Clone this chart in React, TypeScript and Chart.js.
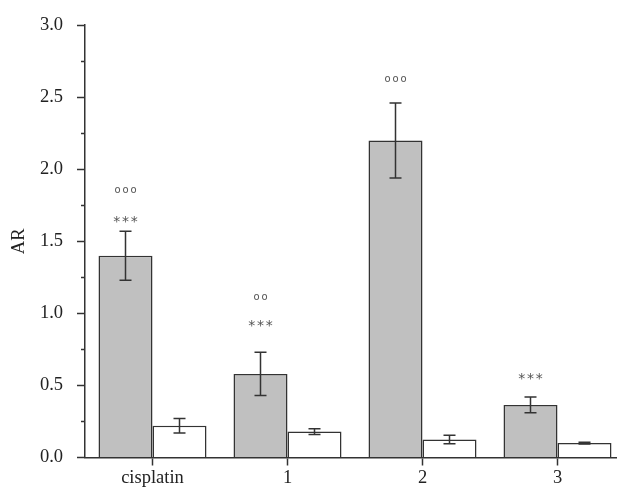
import React, { useEffect, useRef } from "react";
import { Chart, registerables } from "chart.js";
Chart.register(...registerables);

const categories = ["cisplatin", "1", "2", "3"];
const grayValues = [1.4, 0.58, 2.2, 0.365];
const grayErrors = [0.17, 0.15, 0.26, 0.055];
const whiteValues = [0.22, 0.18, 0.125, 0.1];
const whiteErrors = [0.05, 0.02, 0.03, 0.006];
const starLevels: (number | null)[] = [1.655, 0.93, null, 0.565];
const circleLevels: (number | null)[] = [1.85, 1.11, 2.625, null];
const circleCounts = [3, 2, 3, 0];
const starCounts = [3, 3, 0, 3];
const yMin = 0;
const yMax = 3;
const yStep = 0.25;
const yTitle = "AR";

const SERIF = "'Liberation Serif', 'Times New Roman', serif";
const INK = "#333333";

const overlayPlugin = {
  id: "overlay",
  afterDatasetsDraw(chart: any) {
    const ctx = chart.ctx;
    const y = chart.scales.y;
    const errs = [grayErrors, whiteErrors];
    const vals = [grayValues, whiteValues];
    ctx.save();
    ctx.strokeStyle = INK;
    ctx.lineWidth = 1.5;
    for (let d = 0; d < 2; d++) {
      const meta = chart.getDatasetMeta(d);
      meta.data.forEach((bar: any, i: number) => {
        const x = bar.x;
        const top = y.getPixelForValue(vals[d][i] + errs[d][i]);
        const bot = y.getPixelForValue(vals[d][i] - errs[d][i]);
        ctx.beginPath();
        ctx.moveTo(x, top);
        ctx.lineTo(x, bot);
        ctx.moveTo(x - 6, top);
        ctx.lineTo(x + 6, top);
        ctx.moveTo(x - 6, bot);
        ctx.lineTo(x + 6, bot);
        ctx.stroke();
      });
    }
    // significance marks above gray bars
    const meta0 = chart.getDatasetMeta(0);
    ctx.fillStyle = "#555555";
    ctx.textAlign = "center";
    ctx.textBaseline = "middle";
    meta0.data.forEach((bar: any, i: number) => {
      const x = bar.x;
      const sl = starLevels[i];
      if (sl !== null && starCounts[i] > 0) {
        const py = y.getPixelForValue(sl);
        ctx.font = "14px 'DejaVu Sans', sans-serif";
        const n = starCounts[i];
        for (let k = 0; k < n; k++) {
          ctx.fillText("*", x + (k - (n - 1) / 2) * 8.7, py + 3);
        }
      }
      const cl = circleLevels[i];
      if (cl !== null && circleCounts[i] > 0) {
        const py = y.getPixelForValue(cl);
        ctx.font = "10px 'DejaVu Sans', sans-serif";
        const n = circleCounts[i];
        for (let k = 0; k < n; k++) {
          ctx.fillText("o", x + (k - (n - 1) / 2) * 8, py);
        }
      }
    });
    ctx.restore();
  },
  afterDraw(chart: any) {
    const ctx = chart.ctx;
    const y = chart.scales.y;
    ctx.save();
    ctx.strokeStyle = INK;
    ctx.lineWidth = 1.5;
    ctx.beginPath();
    y.ticks.forEach((t: any) => {
      if (Math.abs(t.value / 0.5 - Math.round(t.value / 0.5)) > 1e-6) {
        const py = Math.round(y.getPixelForValue(t.value)) + 0.5;
        ctx.moveTo(y.right - 4, py);
        ctx.lineTo(y.right, py);
      }
    });
    ctx.stroke();
    ctx.restore();
  },
};

const isMajor = (v: number) => Math.abs(v / 0.5 - Math.round(v / 0.5)) < 1e-6;

export default function App() {
  const ref = useRef<HTMLCanvasElement | null>(null);
  useEffect(() => {
    if (!ref.current) return;
    const chart = new Chart(ref.current, {
      type: "bar",
      data: {
        labels: categories,
        datasets: [
          {
            data: grayValues,
            backgroundColor: "#c0c0c0",
            borderColor: INK,
            borderWidth: 1.5,
            categoryPercentage: 0.8,
            barPercentage: 1.0,
          },
          {
            data: whiteValues,
            backgroundColor: "#ffffff",
            borderColor: INK,
            borderWidth: 1.5,
            categoryPercentage: 0.8,
            barPercentage: 1.0,
          },
        ],
      },
      options: {
        animation: false,
        responsive: false,
        devicePixelRatio: 1,
        layout: { padding: { top: 22, right: 5, left: 0, bottom: 0 } },
        plugins: { legend: { display: false }, tooltip: { enabled: false } },
        scales: {
          x: {
            offset: true,
            grid: {
              display: true,
              offset: false,
              drawOnChartArea: false,
              drawTicks: true,
              tickLength: 8,
              tickColor: INK,
              tickWidth: 1.5,
            },
            border: { display: true, color: INK, width: 1.5 },
            ticks: {
              color: "#222",
              font: { family: SERIF, size: 18.5 },
              padding: 2,
              maxRotation: 0,
            },
            afterFit(scale: any) {
              scale.height = 31.5;
            },
          },
          y: {
            min: yMin,
            max: yMax,
            grid: {
              display: true,
              drawOnChartArea: false,
              drawTicks: true,
              tickLength: 8,
              tickWidth: 1.5,
              tickColor: (c: any) => (c.tick && isMajor(c.tick.value) ? INK : "rgba(0,0,0,0)"),
            },
            border: { display: true, color: INK, width: 1.5 },
            ticks: {
              stepSize: yStep,
              color: "#222",
              font: { family: SERIF, size: 18.5 },
              padding: 14,
              callback: (v: any) => (isMajor(Number(v)) ? Number(v).toFixed(1) : ""),
            },
            title: {
              display: true,
              text: yTitle,
              color: "#222",
              font: { family: SERIF, size: 18.5 },
              padding: { top: 8, bottom: 9 },
            },
            afterFit(scale: any) {
              scale.width = 85;
            },
          },
        },
      },
      plugins: [overlayPlugin],
    } as any);
    return () => chart.destroy();
  }, []);
  return (
    <div
      style={{
        position: "fixed",
        left: 0,
        top: 0,
        width: 617,
        height: 489,
        overflow: "hidden",
        background: "#fff",
      }}
    >
      <canvas ref={ref} width={630} height={489} style={{ width: 630, height: 489, display: "block" }} />
    </div>
  );
}
